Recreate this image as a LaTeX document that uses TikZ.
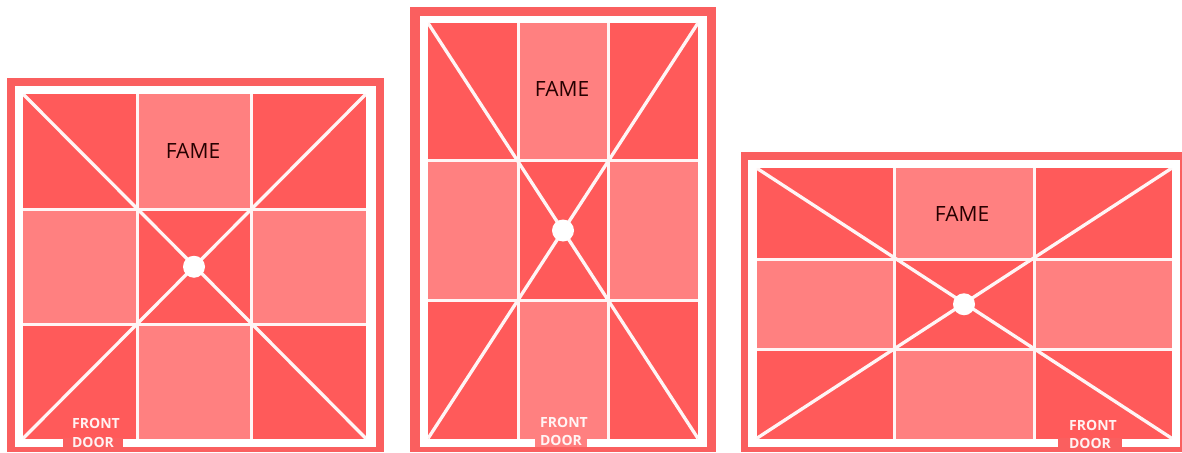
\documentclass[tikz,border=0pt]{standalone}
\usepackage{fontspec}
\setmainfont{Open Sans}
\definecolor{outerred}{HTML}{FA5F5F}
\definecolor{darkcell}{HTML}{FF5A5A}
\definecolor{lightcell}{HTML}{FF8080}
\tikzset{
  gridline/.style={draw=white!92!lightcell,line width=3pt},
  diagline/.style={draw=white!92!lightcell,line width=3.3pt},
  famelabel/.style={font=\fontsize{21}{21}\selectfont,text=black!85!red,inner sep=0pt},
  doorlabel/.style={font=\fontsize{14}{14}\selectfont\bfseries,text=white,opacity=.92,inner sep=0pt},
}
\newcommand{\floorplan}[1]{%
  \pgfkeys{/fp/.cd,#1}%
  \fill[outerred] (\fpOa,\fpOb) rectangle (\fpOc,452);
  \fill[white] (\fpFa,\fpFb) rectangle (\fpFc,446.5);
  \fill[darkcell] (\fpIa,\fpIb) rectangle (\fpIc,438.5);
  \fill[lightcell] (\fpGa,\fpIb) rectangle (\fpGb,438.5);
  \fill[lightcell] (\fpIa,\fpHa) rectangle (\fpIc,\fpHb);
  \fill[darkcell] (\fpGa,\fpHa) rectangle (\fpGb,\fpHb);
  \begin{scope}
  \clip (\fpIa,\fpIb) rectangle (\fpIc,438.5);
  \draw[gridline] (\fpGa,\fpIb) -- (\fpGa,439);
  \draw[gridline] (\fpGb,\fpIb) -- (\fpGb,439);
  \draw[gridline] (\fpIa,\fpHa) -- (\fpIc,\fpHa);
  \draw[gridline] (\fpIa,\fpHb) -- (\fpIc,\fpHb);
  \draw[diagline] (\fpIa,\fpIb) -- (\fpIc,438.5);
  \draw[diagline] (\fpIc,\fpIb) -- (\fpIa,438.5);
  \end{scope}
  \fill[white] ({(\fpGa+\fpGb)/2},{(\fpHa+\fpHb)/2}) circle (11);
  \fill[\fpDc] (\fpDa,437.5) rectangle (\fpDb,446.5);
}
\pgfkeys{/fp/.cd,
  oa/.store in=\fpOa,ob/.store in=\fpOb,oc/.store in=\fpOc,
  fa/.store in=\fpFa,fb/.store in=\fpFb,fc/.store in=\fpFc,
  ia/.store in=\fpIa,ib/.store in=\fpIb,ic/.store in=\fpIc,
  ga/.store in=\fpGa,gb/.store in=\fpGb,ha/.store in=\fpHa,hb/.store in=\fpHb,
  da/.store in=\fpDa,db/.store in=\fpDb,dc/.store in=\fpDc}
\begin{document}
\begin{tikzpicture}[x=1pt,y=-1pt]
\useasboundingbox (0,0) rectangle (1182,452);
\fill[white] (0,0) rectangle (1182,452);
\floorplan{oa=7,ob=78,oc=384,fa=15,fb=86,fc=376,ia=23,ib=94,ic=366,ga=137,gb=251,ha=209,hb=324.5,da=63,db=123,dc=outerred}
\floorplan{oa=410,ob=7,oc=716,fa=420,fb=16,fc=707,ia=428,ib=23,ic=698,ga=518,gb=608,ha=160.5,hb=300.5,da=535,db=587,dc=lightcell}
\floorplan{oa=740.5,ob=152,oc=1182,fa=748,fb=160,fc=1180,ia=756.5,ib=168,ic=1172,ga=894,gb=1034,ha=259.5,hb=349,da=1058,db=1122,dc=outerred}
\node[famelabel] (fame1) at (193,151) {FAME};
\node[famelabel] (fame2) at (562,89) {FAME};
\node[famelabel] (fame3) at (962,214) {FAME};
\node[doorlabel] (front1) at (96,423) {FRONT};
\node[doorlabel] (door1) at (93,442) {DOOR};
\node[doorlabel] (front2) at (564,422) {FRONT};
\node[doorlabel] (door2) at (561,440) {DOOR};
\node[doorlabel] (front3) at (1093,425) {FRONT};
\node[doorlabel] (door3) at (1090,443) {DOOR};
\end{tikzpicture}
\end{document}
